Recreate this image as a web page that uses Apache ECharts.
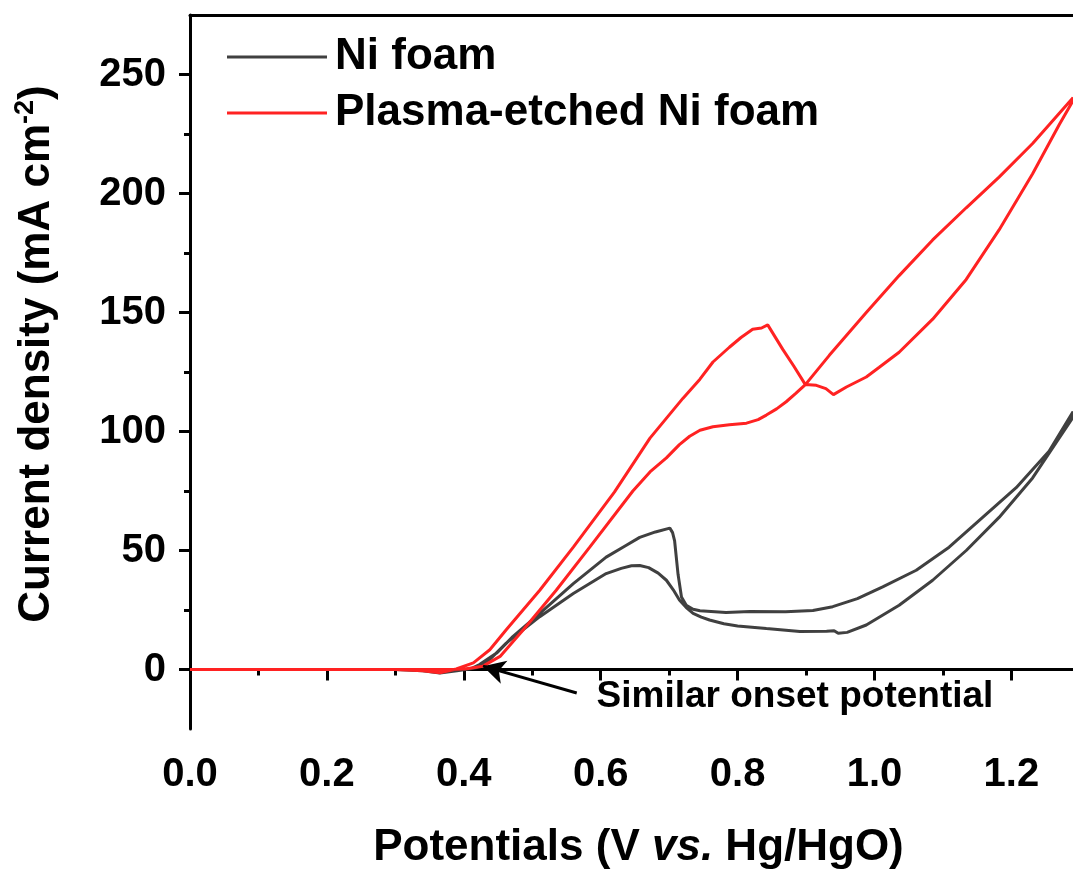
<!DOCTYPE html>
<html>
<head>
<meta charset="utf-8">
<script src="https://cdn.jsdelivr.net/npm/echarts@6/dist/echarts.min.js"></script>
<style>
html,body{margin:0;padding:0;background:#fff;}
#chart{width:1073px;height:875px;}
</style>
</head>
<body>
<div id="chart"></div>
<script>
// ---- data (V vs. Hg/HgO, mA cm^-2), each CV drawn as one closed loop ----
const niFoam = [
  [0.00,0],[0.10,0],[0.20,0],[0.30,0],[0.34,-0.5],[0.365,-1.5],[0.39,-0.5],[0.41,0.3],
  [0.423,2.1],[0.448,6.9],[0.472,13.9],[0.511,23.6],[0.560,36.1],[0.608,47.2],[0.635,51.8],
  [0.657,55.5],[0.680,57.8],[0.701,59.4],[0.705,57.5],[0.708,54],[0.713,40],[0.718,30.5],
  [0.725,27],[0.735,25.3],[0.745,24.7],[0.783,23.9],[0.818,24.4],[0.870,24.3],[0.910,24.8],
  [0.939,26.4],[0.975,29.8],[1.012,34.7],[1.061,41.7],[1.109,51.4],[1.158,63.9],[1.207,76.4],
  [1.255,91.7],[1.290,108.3],
  [1.290,106],[1.231,80.5],[1.182,63.9],[1.134,50],[1.085,37.5],[1.036,27],[0.988,18.7],
  [0.960,15.6],[0.947,15.2],[0.941,16.3],[0.930,16.1],[0.891,16],[0.842,17.2],[0.800,18.3],
  [0.780,19.2],[0.759,20.8],[0.747,22],[0.735,23.6],[0.725,26],[0.715,29.2],[0.706,33.5],
  [0.696,37.5],[0.684,40.5],[0.670,42.8],[0.657,43.7],[0.645,43.6],[0.630,42.5],
  [0.608,40.3],[0.560,31.9],[0.511,22.2],[0.462,11.1],[0.438,4.2],[0.418,0.7],[0.40,0],
  [0.30,0],[0.00,0]
];
const plasmaNiFoam = [
  [0.00,0],[0.10,0],[0.20,0],[0.30,0],[0.34,-0.5],[0.365,-1.4],[0.389,0.2],[0.414,2.8],
  [0.438,8.3],[0.462,16.7],[0.511,33.3],[0.560,51.4],[0.620,74.5],[0.672,97.2],[0.720,113.9],
  [0.745,122],[0.764,129.2],[0.788,135.4],[0.805,139.5],[0.822,143],[0.835,143.5],
  [0.844,144.8],[0.866,134.5],[0.882,127.5],[0.899,119.7],[0.915,119.4],[0.929,118],
  [0.940,115.5],[0.959,118.7],[0.988,122.9],[1.007,127],[1.036,133.3],[1.085,147.2],
  [1.134,163.9],[1.182,184.7],[1.231,208.3],[1.270,229],[1.290,239],
  [1.290,240.2],[1.231,221],[1.182,206.9],[1.134,194],[1.085,180.5],[1.036,165.5],
  [0.988,150],[0.934,132],[0.899,119.7],[0.885,116],[0.871,112.5],[0.857,109.5],
  [0.842,106.9],[0.830,105],[0.813,103.5],[0.788,102.8],[0.764,102],[0.745,100.5],
  [0.730,98],[0.715,94.5],[0.696,88.9],[0.672,83],[0.647,75],[0.584,51.4],[0.535,33.3],
  [0.487,16.7],[0.453,5.5],[0.428,1.4],[0.404,0.3],[0.38,0],[0.20,0],[0.00,0]
];
const seriesNames = ['Ni foam', 'Plasma-etched Ni foam'];
const xMajorTicks = [0, 0.2, 0.4, 0.6, 0.8, 1.0, 1.2];
const xMinorTicks = [0.1, 0.3, 0.5, 0.7, 0.9, 1.1];
const yMajorTicks = [0, 50, 100, 150, 200, 250];
const yMinorTicks = [25, 75, 125, 175, 225];
const xRange = [0, 1.29];
const yRange = [-25, 275];
const arrowTail = [0.565, -9.9];
const arrowTip = [0.428, 1.4];
const annotationAt = [0.594, -11.3];
const annotationText = 'Similar onset potential';

// ---- chart ----
const FONT = '"Liberation Sans", Arial, Helvetica, sans-serif';
const chart = echarts.init(document.getElementById('chart'), null, {renderer: 'canvas'});
const axisLine = {show: true, lineStyle: {color: '#000', width: 3}};
const option = {
  backgroundColor: '#ffffff',
  animation: false,
  grid: {left: 190, right: 0, top: 15, bottom: 143, containLabel: false},
  legend: {
    data: seriesNames,
    orient: 'vertical',
    left: 222, top: 24,
    itemWidth: 100, itemHeight: 3, itemGap: 0,
    icon: 'rect',
    textStyle: {fontFamily: FONT, fontWeight: 'bold', fontSize: 44, color: '#000', lineHeight: 56, padding: [0, 0, 0, 3]}
  },
  xAxis: [
    {
      type: 'value', min: xRange[0], max: xRange[1], position: 'bottom',
      axisLine: axisLine,
      axisTick: {show: true, inside: false, length: 11, lineStyle: {color: '#000', width: 3}, customValues: xMajorTicks},
      axisLabel: {customValues: xMajorTicks, margin: 26, fontFamily: FONT, fontWeight: 'bold', fontSize: 40, color: '#000',
        formatter: v => v.toFixed(1)},
      splitLine: {show: false},
      name: '{a|Potentials (V }{i|vs.}{a| Hg/HgO)}',
      nameLocation: 'middle', nameGap: 97,
      nameTextStyle: {padding: [0, 0, 0, 14],
        rich: {
          a: {fontFamily: FONT, fontWeight: 'bold', fontSize: 44, color: '#000'},
          i: {fontFamily: FONT, fontWeight: 'bold', fontStyle: 'italic', fontSize: 44, color: '#000'}
        }}
    },
    {
      type: 'value', min: xRange[0], max: xRange[1], position: 'bottom',
      axisLine: {show: false},
      axisTick: {show: true, inside: false, length: 6, lineStyle: {color: '#000', width: 3}, customValues: xMinorTicks},
      axisLabel: {show: false}, splitLine: {show: false}
    },
    {
      type: 'value', min: xRange[0], max: xRange[1], position: 'top',
      axisLine: axisLine, axisTick: {show: false}, axisLabel: {show: false}, splitLine: {show: false}
    }
  ],
  yAxis: [
    {
      type: 'value', min: yRange[0], max: yRange[1], position: 'left',
      axisLine: axisLine,
      axisTick: {show: true, inside: false, length: 11, lineStyle: {color: '#000', width: 3}, customValues: yMajorTicks},
      axisLabel: {customValues: yMajorTicks, margin: 24, fontFamily: FONT, fontWeight: 'bold', fontSize: 40, color: '#000'},
      splitLine: {show: false},
      name: '{a|Current density (mA cm}{s|-2}{a|)}',
      nameLocation: 'middle', nameGap: 128,
      nameTextStyle: {padding: [0, 0, 0, 36],
        rich: {
          a: {fontFamily: FONT, fontWeight: 'bold', fontSize: 44, color: '#000', lineHeight: 50},
          s: {fontFamily: FONT, fontWeight: 'bold', fontSize: 27, color: '#000', lineHeight: 50, verticalAlign: 'top'}
        }}
    },
    {
      type: 'value', min: yRange[0], max: yRange[1], position: 'left',
      axisLine: {show: false},
      axisTick: {show: true, inside: false, length: 6, lineStyle: {color: '#000', width: 3}, customValues: yMinorTicks},
      axisLabel: {show: false}, splitLine: {show: false}
    }
  ],
  series: [
    {
      name: seriesNames[0], type: 'line', data: niFoam, xAxisIndex: 0, yAxisIndex: 0,
      showSymbol: false, symbol: 'none', smooth: false, clip: true,
      lineStyle: {color: '#404040', width: 3}, itemStyle: {color: '#404040'},
      markLine: {
        silent: true, animation: false,
        symbol: ['none', 'arrow'], symbolSize: [18, 22],
        lineStyle: {color: '#000', width: 3, type: 'solid'},
        label: {show: false},
        data: [[{coord: arrowTail}, {coord: arrowTip}]]
      }
    },
    {
      name: seriesNames[1], type: 'line', data: plasmaNiFoam, xAxisIndex: 0, yAxisIndex: 0,
      showSymbol: false, symbol: 'none', smooth: false, clip: true,
      lineStyle: {color: '#ff2222', width: 3}, itemStyle: {color: '#ff2222'}
    },
    {
      name: 'annotation', type: 'scatter', data: [annotationAt], symbolSize: 0, silent: true,
      itemStyle: {color: '#000', opacity: 1},
      label: {show: true, position: 'right', distance: 0, formatter: annotationText, opacity: 1,
        fontFamily: FONT, fontWeight: 'bold', fontSize: 37, color: '#000', textBorderWidth: 0}
    }
  ]
};
chart.setOption(option);
</script>
</body>
</html>
